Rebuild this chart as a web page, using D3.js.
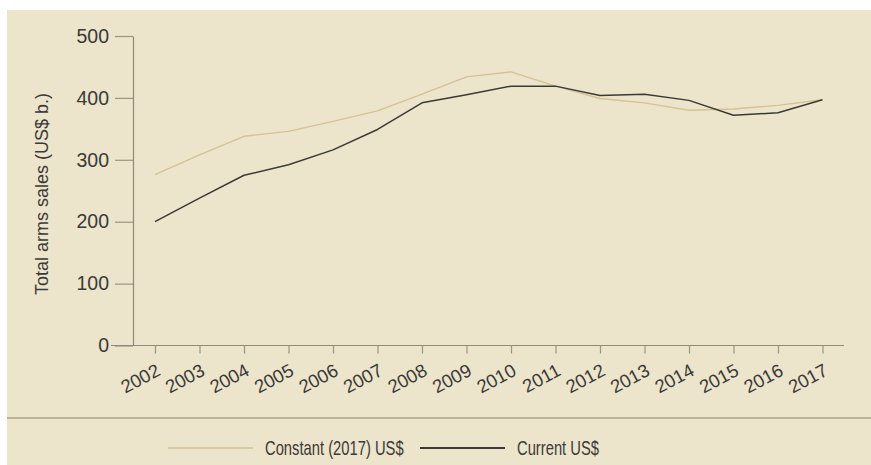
<!DOCTYPE html>
<html>
<head>
<meta charset="utf-8">
<script src="https://cdn.jsdelivr.net/npm/d3@7"></script>
<style>
  html, body { margin: 0; padding: 0; background: #fff; }
  svg { display: block; }
  .tick text { font-family: "Liberation Sans", Arial, sans-serif; fill: #3a3a38; }
</style>
</head>
<body>
<div id="chart"></div>
<script>
// years on the x axis
const years = [2002, 2003, 2004, 2005, 2006, 2007, 2008, 2009, 2010, 2011, 2012, 2013, 2014, 2015, 2016, 2017];
// Constant (2017) US$, billions
const constantUSD = [276, 308, 338, 346, 362, 379, 406, 434, 442, 419, 399, 392, 380, 382, 388, 397];
// Current US$, billions
const currentUSD = [200, 238, 275, 292, 316, 349, 392, 405, 419, 419, 404, 406, 396, 372, 376, 397];
const yTicks = [0, 100, 200, 300, 400, 500];

const seriesNames = ['Constant (2017) US$', 'Current US$'];
const seriesColors = ['#d6c293', '#3b3a36'];

const width = 871, height = 465;
const margin = { top: 36, left: 133, right: 27, bottom: 120 };

const svg = d3.select('#chart').append('svg')
  .attr('width', width)
  .attr('height', height);

// beige panel (top strip stays white)
svg.append('rect')
  .attr('x', 7).attr('y', 10)
  .attr('width', width - 7).attr('height', height - 10)
  .attr('fill', '#ece4cb');

const xScale = d3.scalePoint()
  .domain(years)
  .range([155, 822.5]);

const yScale = d3.scaleLinear()
  .domain([0, 500])
  .range([345.5, 36]);

// y axis
const yAxis = d3.axisLeft(yScale)
  .tickValues(yTicks)
  .tickSize(18)
  .tickPadding(6)
  .tickSizeOuter(0);

const yAxisEl = svg.append('g')
  .attr('transform', `translate(${ margin.left },0)`)
  .call(yAxis);
yAxisEl.select('.domain').attr('stroke', '#8f897a').attr('stroke-width', 1.2);
yAxisEl.selectAll('.tick line').attr('stroke', '#9b9584').attr('stroke-width', 1.2);
yAxisEl.selectAll('.tick text').attr('font-size', 19.5);

// x axis baseline runs from under the 0 label to the right end
svg.append('line')
  .attr('x1', 111).attr('x2', 844)
  .attr('y1', yScale(0)).attr('y2', yScale(0))
  .attr('stroke', '#8f897a').attr('stroke-width', 1.2);

const xAxis = d3.axisBottom(xScale)
  .tickSize(8)
  .tickSizeOuter(0);

const xAxisEl = svg.append('g')
  .attr('transform', `translate(0,${ yScale(0) })`)
  .call(xAxis);
xAxisEl.select('.domain').remove();
xAxisEl.selectAll('.tick line').attr('stroke', '#9b9584').attr('stroke-width', 1.2);
xAxisEl.selectAll('.tick text')
  .attr('font-size', 18.5)
  .attr('text-anchor', 'end')
  .attr('dy', null)
  .attr('y', null)
  .attr('transform', 'translate(6,29) rotate(-28)');

// y axis title
svg.append('text')
  .attr('transform', 'translate(48,194) rotate(-90)')
  .attr('text-anchor', 'middle')
  .attr('font-family', '"Liberation Sans", Arial, sans-serif')
  .attr('font-size', 18)
  .attr('fill', '#3a3a38')
  .text('Total arms sales (US$ b.)');

// lines
const line = d3.line()
  .x((d, i) => { return xScale(years[i]) })
  .y((d) => { return yScale(d) });

[constantUSD, currentUSD].forEach((values, i) => {
  svg.append('path')
    .datum(values)
    .attr('fill', 'none')
    .attr('stroke', seriesColors[i])
    .attr('stroke-width', i === 0 ? 1.4 : 1.5)
    .attr('stroke-linejoin', 'round')
    .attr('d', line);
});

// separator above legend
svg.append('line')
  .attr('x1', 7).attr('x2', width)
  .attr('y1', 418).attr('y2', 418)
  .attr('stroke', '#bdb39b').attr('stroke-width', 2);

// legend (condensed face, squeezed horizontally)
const legendX = [168, 420];
const legend = svg.append('g').attr('class', 'legend');
seriesNames.forEach((name, i) => {
  const g = legend.append('g').attr('transform', `translate(${ legendX[i] },448)`);
  g.append('line')
    .attr('x1', 0).attr('x2', 85)
    .attr('stroke', seriesColors[i])
    .attr('stroke-width', i === 0 ? 1.6 : 1.8);
  g.append('text')
    .attr('transform', 'translate(97,0) scale(0.72,1)')
    .attr('dy', '0.36em')
    .attr('font-family', '"Liberation Sans", Arial, sans-serif')
    .attr('font-size', 20.5)
    .attr('fill', '#3a3a38')
    .text(name);
});
</script>
</body>
</html>
